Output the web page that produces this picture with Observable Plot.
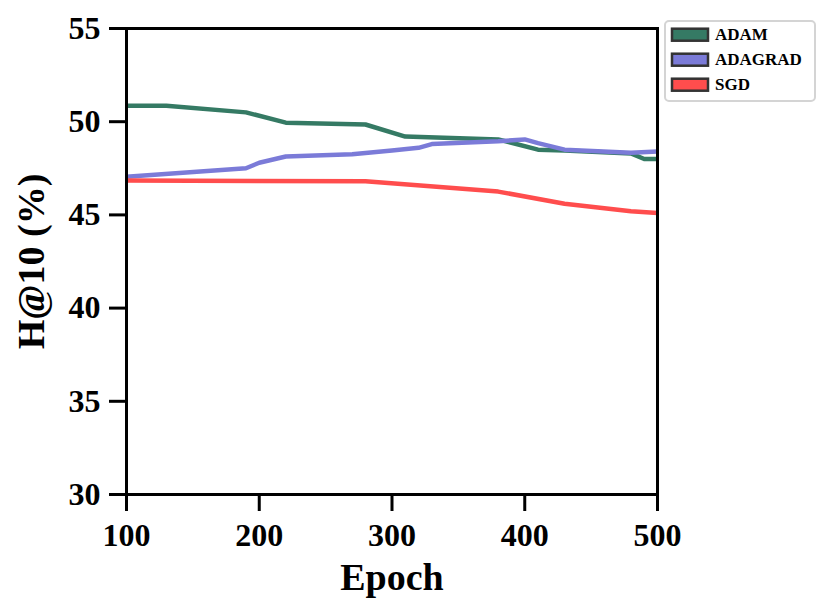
<!DOCTYPE html>
<html>
<head>
<meta charset="utf-8">
<script src="https://cdn.jsdelivr.net/npm/d3@7"></script>
<script src="https://cdn.jsdelivr.net/npm/@observablehq/plot@0.6"></script>
<style>
  html, body { margin: 0; padding: 0; background: #fff; }
  svg { display: block; }
</style>
</head>
<body>
<div id="chart"></div>
<script>
const seriesNames = ["ADAM", "ADAGRAD", "SGD"];
const seriesColors = ["#357a64", "#7b7bd8", "#ff4d4d"];

const adamEpoch = [100, 130, 190, 220, 280, 310, 380, 410, 430, 480, 490, 500];
const adamH10 = [50.85, 50.85, 50.5, 49.95, 49.85, 49.2, 49.05, 48.5, 48.45, 48.3, 48.0, 48.0];

const adagradEpoch = [100, 190, 200, 220, 270, 300, 320, 330, 380, 400, 410, 430, 480, 500];
const adagradH10 = [47.05, 47.5, 47.8, 48.13, 48.25, 48.45, 48.6, 48.8, 48.95, 49.05, 48.85, 48.5, 48.33, 48.4];

const sgdEpoch = [100, 280, 380, 430, 480, 500];
const sgdH10 = [46.85, 46.8, 46.25, 45.6, 45.2, 45.1];

const xTicks = [100, 200, 300, 400, 500];
const yTicks = [30, 35, 40, 45, 50, 55];

const rows = [];
[[adamEpoch, adamH10], [adagradEpoch, adagradH10], [sgdEpoch, sgdH10]].forEach(([xs, ys], i) => {
  xs.forEach((e, j) => rows.push({series: seriesNames[i], epoch: e, h10: ys[j]}));
});

const font = "'Liberation Serif', 'Times New Roman', serif";

const plot = Plot.plot({
  width: 831,
  height: 613,
  marginLeft: 126,
  marginRight: 174,
  marginTop: 28,
  marginBottom: 119,
  style: {fontFamily: font, fontWeight: "bold", background: "#fff"},
  x: {domain: [100, 500]},
  y: {domain: [30, 55]},
  color: {domain: seriesNames, range: seriesColors},
  marks: [
    Plot.line(rows, {x: "epoch", y: "h10", z: "series", stroke: "series", strokeWidth: 4.5, strokeLinejoin: "round", strokeLinecap: "butt"}),
    Plot.frame({stroke: "black", strokeWidth: 3}),
    Plot.axisX({ticks: xTicks, tickSize: 17, tickPadding: 12, strokeWidth: 3, fontSize: 32, fontWeight: "bold", tickFormat: d => String(d), label: null, color: "black"}),
    Plot.axisY({ticks: yTicks, tickSize: 17, tickPadding: 9, strokeWidth: 3, fontSize: 32, fontWeight: "bold", tickFormat: d => String(d), label: null, color: "black"}),
    Plot.text(["Epoch"], {frameAnchor: "bottom", dy: 83, fontSize: 38, fontWeight: "bold", fill: "black", text: d => d, textAnchor: "middle", lineAnchor: "middle"}),
    Plot.text(["H@10 (%)"], {frameAnchor: "left", dx: -95, rotate: -90, fontSize: 38, fontWeight: "bold", fill: "black", text: d => d, textAnchor: "middle", lineAnchor: "middle"})
  ]
});

document.getElementById("chart").appendChild(plot);

// legend
const svg = d3.select(plot);
const lg = svg.append("g").attr("font-family", font).attr("font-weight", "bold").attr("text-anchor", "start");
lg.append("rect")
  .attr("x", 665).attr("y", 21).attr("width", 150).attr("height", 80)
  .attr("rx", 4).attr("fill", "white").attr("stroke", "#d4d4d4").attr("stroke-width", 2);
seriesNames.forEach((name, i) => {
  const cy = 34.7 + i * 25;
  lg.append("rect")
    .attr("x", 672).attr("y", cy - 6).attr("width", 36).attr("height", 12)
    .attr("fill", seriesColors[i]).attr("stroke", "#333").attr("stroke-width", 2.5);
  lg.append("text")
    .attr("x", 715).attr("y", cy).attr("dy", "0.34em")
    .attr("text-anchor", "start")
    .attr("font-size", 17).attr("fill", "black").text(name);
});
</script>
</body>
</html>
